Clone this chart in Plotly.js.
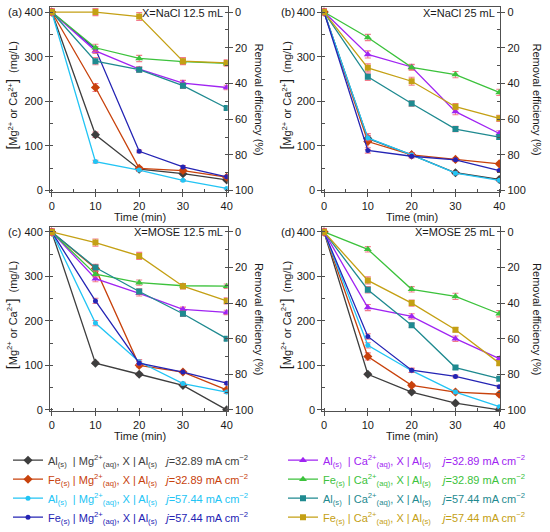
<!DOCTYPE html>
<html><head><meta charset="utf-8">
<script src="https://cdn.plot.ly/plotly-3.0.1.min.js"></script>
<style>html,body{margin:0;padding:0;background:#fff}</style>
</head><body><div id="chart" style="width:550px;height:532px"></div>
<script>
// ---------- data ----------
const time = [0, 10, 20, 30, 40];

// (a) X = NaCl 12.5 mL
const a_Al_Mg_32 = [400, 125, 48, 38, 24];
const a_Fe_Mg_32 = [400, 231, 50, 45, 30];
const a_Al_Mg_57 = [400, 65, 46, 23, 5];
const a_Fe_Mg_57 = [400, 317, 88, 53, 31];
const a_Al_Ca_32 = [400, 313, 272, 241, 231];
const a_Fe_Ca_32 = [400, 320, 296, 289, 285];
const a_Al_Ca_57 = [400, 290, 271, 235, 185];
const a_Fe_Ca_57 = [400, 400, 390, 290, 286];
const a_err_Al_Mg_32 = [6, 6, 4, 3, 2];
const a_err_Fe_Mg_32 = [6, 9, 4, 4, 3];
const a_err_Al_Mg_57 = [6, 3, 3, 2, 1];
const a_err_Fe_Mg_57 = [6, 6, 3, 3, 2];
const a_err_Al_Ca_32 = [6, 6, 5, 6, 5];
const a_err_Fe_Ca_32 = [6, 8, 7, 6, 5];
const a_err_Al_Ca_57 = [6, 8, 6, 6, 4];
const a_err_Fe_Ca_57 = [6, 8, 9, 8, 7];

// (b) X = NaCl 25 mL
const b_Al_Mg_32 = [400, 117, 80, 40, 25];
const b_Fe_Mg_32 = [400, 110, 80, 70, 60];
const b_Al_Mg_57 = [400, 118, 80, 39, 23];
const b_Fe_Mg_57 = [400, 90, 77, 69, 45];
const b_Al_Ca_32 = [400, 305, 277, 177, 128];
const b_Fe_Ca_32 = [400, 343, 276, 260, 220];
const b_Al_Ca_57 = [400, 255, 195, 138, 120];
const b_Fe_Ca_57 = [400, 275, 245, 188, 162];
const b_err_Al_Mg_32 = [6, 6, 4, 3, 2];
const b_err_Fe_Mg_32 = [6, 18, 4, 3, 2];
const b_err_Al_Mg_57 = [6, 6, 4, 3, 2];
const b_err_Fe_Mg_57 = [6, 6, 4, 3, 2];
const b_err_Al_Ca_32 = [6, 8, 6, 7, 6];
const b_err_Fe_Ca_32 = [6, 7, 6, 7, 7];
const b_err_Al_Ca_57 = [6, 8, 6, 6, 5];
const b_err_Fe_Ca_57 = [6, 9, 9, 7, 7];

// (c) X = MOSE 12.5 mL
const c_Al_Mg_32 = [400, 105, 80, 55, 0];
const c_Fe_Mg_32 = [400, 318, 100, 85, 45];
const c_Al_Mg_57 = [400, 195, 108, 59, 40];
const c_Fe_Mg_57 = [400, 245, 105, 85, 60];
const c_Al_Ca_32 = [400, 295, 262, 226, 219];
const c_Fe_Ca_32 = [400, 305, 286, 279, 278];
const c_Al_Ca_57 = [400, 320, 266, 216, 160];
const c_Fe_Ca_57 = [400, 376, 346, 278, 245];
const c_err_Al_Mg_32 = [6, 3, 3, 3, 2];
const c_err_Fe_Mg_32 = [6, 7, 4, 3, 3];
const c_err_Al_Mg_57 = [6, 6, 5, 3, 3];
const c_err_Fe_Mg_57 = [6, 6, 4, 3, 3];
const c_err_Al_Ca_32 = [6, 7, 6, 5, 5];
const c_err_Fe_Ca_32 = [6, 6, 6, 5, 5];
const c_err_Al_Ca_57 = [6, 7, 6, 6, 4];
const c_err_Fe_Ca_57 = [6, 8, 8, 6, 7];

// (d) X = MOSE 25 mL
const d_Al_Mg_32 = [400, 80, 40, 15, 0];
const d_Fe_Mg_32 = [400, 120, 55, 40, 35];
const d_Al_Mg_57 = [400, 145, 88, 40, 7];
const d_Fe_Mg_57 = [400, 165, 89, 75, 52];
const d_Al_Ca_32 = [400, 230, 210, 160, 115];
const d_Fe_Ca_32 = [400, 361, 271, 255, 216];
const d_Al_Ca_57 = [400, 270, 190, 95, 70];
const d_Fe_Ca_57 = [400, 291, 240, 180, 105];
const d_err_Al_Mg_32 = [6, 3, 3, 2, 2];
const d_err_Fe_Mg_32 = [6, 8, 4, 3, 3];
const d_err_Al_Mg_57 = [6, 6, 4, 3, 2];
const d_err_Fe_Mg_57 = [6, 6, 5, 3, 3];
const d_err_Al_Ca_32 = [6, 7, 6, 6, 5];
const d_err_Fe_Ca_32 = [6, 6, 6, 7, 7];
const d_err_Al_Ca_57 = [6, 7, 5, 4, 4];
const d_err_Fe_Ca_57 = [6, 8, 7, 5, 5];

const panelLabels = ["(a)", "(b)", "(c)", "(d)"];
const conditionLabels = ["X=NaCl 12.5 mL", "X=NaCl 25 mL", "X=MOSE 12.5 mL", "X=MOSE 25 mL"];
const xTitle = "Time (min)";
const yTitleLeft = '<span style="font-size:14px">[</span>Mg<sup>2+</sup> or Ca<sup>2+</sup><span style="font-size:14px">]</span>  (mg/L)';
const yTitleRight = "Removal efficiency (%)";

// ---------- styling ----------
const NB = "\u00A0";
const seriesStyle = [
  {key: "Al_Mg_32", color: "#3e3e3e", symbol: "diamond", size: 7, legend: "legend",
   label: "Al<sub>(s)</sub>" + NB + NB + "| Mg<sup>2+</sup><sub>(aq)</sub>, X | Al<sub>(s)</sub>" + NB + NB + NB + "<i>j</i>=32.89 mA cm<sup>\u22122</sup>"},
  {key: "Fe_Mg_32", color: "#c8420c", symbol: "diamond", size: 7, legend: "legend",
   label: "Fe<sub>(s)</sub>" + NB + "| Mg<sup>2+</sup><sub>(aq)</sub>, X | Al<sub>(s)</sub>" + NB + NB + NB + "<i>j</i>=32.89 mA cm<sup>\u22122</sup>"},
  {key: "Al_Mg_57", color: "#22c4f4", symbol: "circle", size: 5, legend: "legend",
   label: "Al<sub>(s)</sub>" + NB + NB + "| Mg<sup>2+</sup><sub>(aq)</sub>, X | Al<sub>(s)</sub>" + NB + NB + NB + "<i>j</i>=57.44 mA cm<sup>\u22122</sup>"},
  {key: "Fe_Mg_57", color: "#2424b4", symbol: "circle", size: 5, legend: "legend",
   label: "Fe<sub>(s)</sub>" + NB + "| Mg<sup>2+</sup><sub>(aq)</sub>, X | Al<sub>(s)</sub>" + NB + NB + NB + "<i>j</i>=57.44 mA cm<sup>\u22122</sup>"},
  {key: "Al_Ca_32", color: "#a024f2", symbol: "triangle-up", size: 7, legend: "legend2",
   label: "Al<sub>(s)</sub>" + NB + NB + "| Ca<sup>2+</sup><sub>(aq)</sub>, X | Al<sub>(s)</sub>" + NB + NB + NB + NB + "<i>j</i>=32.89 mA cm<sup>\u22122</sup>"},
  {key: "Fe_Ca_32", color: "#3cc23c", symbol: "triangle-up", size: 7, legend: "legend2",
   label: "Fe<sub>(s)</sub>" + NB + "| Ca<sup>2+</sup><sub>(aq)</sub>, X | Al<sub>(s)</sub>" + NB + NB + NB + NB + "<i>j</i>=32.89 mA cm<sup>\u22122</sup>"},
  {key: "Al_Ca_57", color: "#1f8a90", symbol: "square", size: 6, legend: "legend2",
   label: "Al<sub>(s)</sub>" + NB + NB + "| Ca<sup>2+</sup><sub>(aq)</sub>, X | Al<sub>(s)</sub>" + NB + NB + NB + NB + "<i>j</i>=57.44 mA cm<sup>\u22122</sup>"},
  {key: "Fe_Ca_57", color: "#c4a014", symbol: "square", size: 6, legend: "legend2",
   label: "Fe<sub>(s)</sub>" + NB + "| Ca<sup>2+</sup><sub>(aq)</sub>, X | Al<sub>(s)</sub>" + NB + NB + NB + NB + "<i>j</i>=57.44 mA cm<sup>\u22122</sup>"}
];

const panelData = [
  {vals: [a_Al_Mg_32, a_Fe_Mg_32, a_Al_Mg_57, a_Fe_Mg_57, a_Al_Ca_32, a_Fe_Ca_32, a_Al_Ca_57, a_Fe_Ca_57],
   errs: [a_err_Al_Mg_32, a_err_Fe_Mg_32, a_err_Al_Mg_57, a_err_Fe_Mg_57, a_err_Al_Ca_32, a_err_Fe_Ca_32, a_err_Al_Ca_57, a_err_Fe_Ca_57]},
  {vals: [b_Al_Mg_32, b_Fe_Mg_32, b_Al_Mg_57, b_Fe_Mg_57, b_Al_Ca_32, b_Fe_Ca_32, b_Al_Ca_57, b_Fe_Ca_57],
   errs: [b_err_Al_Mg_32, b_err_Fe_Mg_32, b_err_Al_Mg_57, b_err_Fe_Mg_57, b_err_Al_Ca_32, b_err_Fe_Ca_32, b_err_Al_Ca_57, b_err_Fe_Ca_57]},
  {vals: [c_Al_Mg_32, c_Fe_Mg_32, c_Al_Mg_57, c_Fe_Mg_57, c_Al_Ca_32, c_Fe_Ca_32, c_Al_Ca_57, c_Fe_Ca_57],
   errs: [c_err_Al_Mg_32, c_err_Fe_Mg_32, c_err_Al_Mg_57, c_err_Fe_Mg_57, c_err_Al_Ca_32, c_err_Fe_Ca_32, c_err_Al_Ca_57, c_err_Fe_Ca_57]},
  {vals: [d_Al_Mg_32, d_Fe_Mg_32, d_Al_Mg_57, d_Fe_Mg_57, d_Al_Ca_32, d_Fe_Ca_32, d_Al_Ca_57, d_Fe_Ca_57],
   errs: [d_err_Al_Mg_32, d_err_Fe_Mg_32, d_err_Al_Mg_57, d_err_Fe_Mg_57, d_err_Al_Ca_32, d_err_Fe_Ca_32, d_err_Al_Ca_57, d_err_Fe_Ca_57]}
];

// ---------- geometry (pixels in a 550x532 page) ----------
const W = 550, H = 532;
const FONT = "Liberation Sans, Arial, Helvetica, sans-serif";
const TXT = "#1a1a1a";
const AX = "#505050";
const xPix = [[50, 227.7], [322.3, 500.3], [50, 227.7], [322.3, 500.3]];
const yPix = [[7.3, 196.3], [7.3, 196.3], [232.3, 420.6], [232.3, 420.6]];
const yRange = [[-2.8, 411], [-2.8, 411], [-2.9, 411], [-2.9, 411]];

const traces = [];
const layout = {
  width: W, height: H,
  margin: {l: 0, r: 0, t: 0, b: 0},
  paper_bgcolor: "#fff", plot_bgcolor: "#fff",
  font: {family: FONT, size: 11, color: TXT},
  showlegend: true,
  annotations: [],
  legend: {x: 8 / W, xanchor: "left", y: 1 - 456 / H, yanchor: "top",
           bgcolor: "rgba(0,0,0,0)", font: {family: FONT, size: 11}, tracegroupgap: 0},
  legend2: {x: 283 / W, xanchor: "left", y: 1 - 456 / H, yanchor: "top",
            bgcolor: "rgba(0,0,0,0)", font: {family: FONT, size: 11}, tracegroupgap: 0}
};

for (let p = 0; p < 4; p++) {
  const xn = p === 0 ? "" : String(p + 1);
  const yl = 2 * p + 1, yr = 2 * p + 2;
  const ylName = yl === 1 ? "" : String(yl);
  const xDomain = [xPix[p][0] / W, xPix[p][1] / W];
  const yDomain = [1 - yPix[p][1] / H, 1 - yPix[p][0] / H];
  const rng = yRange[p];

  layout["xaxis" + xn] = {
    domain: xDomain, range: [-0.39, 40.23], anchor: "y" + ylName,
    showline: true, linecolor: AX, linewidth: 1, mirror: true,
    showgrid: false, zeroline: false,
    ticks: "outside", ticklen: 4, tickcolor: AX, tick0: 0, dtick: 10,
    minor: {ticks: "inside", ticklen: 3, tickcolor: AX, dtick: 5, tick0: 0, showgrid: false},
    tickfont: {family: FONT, size: 11, color: TXT}
  };
  layout["yaxis" + ylName] = {
    domain: yDomain, range: rng, anchor: "x" + xn,
    showline: true, linecolor: AX, linewidth: 1,
    showgrid: false, zeroline: false,
    ticks: "outside", ticklen: 4, tickcolor: AX, tick0: 0, dtick: 100,
    minor: {ticks: "inside", ticklen: 3, tickcolor: AX, dtick: 50, tick0: 0, showgrid: false},
    tickfont: {family: FONT, size: 11, color: TXT}
  };
  layout["yaxis" + yr] = {
    overlaying: "y" + ylName, side: "right", anchor: "x" + xn,
    range: [(400 - rng[0]) / 4, (400 - rng[1]) / 4],
    showline: true, linecolor: AX, linewidth: 1,
    showgrid: false, zeroline: false,
    ticks: "outside", ticklen: 4, tickcolor: AX, tick0: 0, dtick: 20,
    minor: {ticks: "inside", ticklen: 3, tickcolor: AX, dtick: 10, tick0: 0, showgrid: false},
    tickfont: {family: FONT, size: 11, color: TXT}
  };

  // data traces
  for (let s = 0; s < seriesStyle.length; s++) {
    const st = seriesStyle[s];
    traces.push({
      type: "scatter", mode: "lines+markers",
      x: time, y: panelData[p].vals[s],
      xaxis: "x" + xn, yaxis: "y" + ylName,
      line: {color: st.color, width: 1.3},
      marker: {color: st.color, symbol: st.symbol, size: st.size},
      error_y: {type: "data", array: panelData[p].errs[s], visible: true,
                color: "rgba(240,90,110,0.8)", thickness: 1.1, width: 3},
      name: '<span style="color:' + st.color + '">' + st.label + '</span>',
      legend: st.legend,
      showlegend: p === 0,
      hoverinfo: "skip"
    });
  }
  // empty trace so the right-hand efficiency axis is drawn
  traces.push({type: "scatter", mode: "markers", x: [], y: [],
               xaxis: "x" + xn, yaxis: "y" + yr, showlegend: false, hoverinfo: "skip"});

  const xc = (xPix[p][0] + xPix[p][1]) / 2;
  const yc = (yPix[p][0] + yPix[p][1]) / 2;
  const ann = layout.annotations;
  // panel label
  ann.push({text: panelLabels[p], xref: "paper", yref: "paper",
            x: (p % 2 === 0 ? 6 : 279) / W, y: 1 - (yPix[p][0] + 5) / H,
            xanchor: "left", yanchor: "middle", showarrow: false,
            font: {family: FONT, size: 11.5, color: TXT}});
  // condition label
  ann.push({text: conditionLabels[p], xref: "paper", yref: "paper",
            x: (xPix[p][1] - 3) / W, y: 1 - (yPix[p][0] + 5.5) / H,
            xanchor: "right", yanchor: "middle", showarrow: false,
            font: {family: FONT, size: 11, color: TXT}});
  // x title
  ann.push({text: xTitle, xref: "paper", yref: "paper",
            x: (xc + 1) / W, y: 1 - (yPix[p][1] + 25.5) / H,
            xanchor: "center", yanchor: "middle", showarrow: false,
            font: {family: FONT, size: 11, color: TXT}});
  // left y title
  ann.push({text: yTitleLeft, xref: "paper", yref: "paper", textangle: -90,
            x: (p % 2 === 0 ? 12 : 286) / W, y: 1 - (yc - 4) / H,
            xanchor: "center", yanchor: "middle", showarrow: false,
            font: {family: FONT, size: 11, color: TXT}});
  // right y title
  ann.push({text: yTitleRight, xref: "paper", yref: "paper", textangle: 90,
            x: (p % 2 === 0 ? 259 : 537) / W, y: 1 - yc / H,
            xanchor: "center", yanchor: "middle", showarrow: false,
            font: {family: FONT, size: 11, color: TXT}});
}

Plotly.newPlot("chart", traces, layout, {staticPlot: true, displayModeBar: false});
</script></body></html>
